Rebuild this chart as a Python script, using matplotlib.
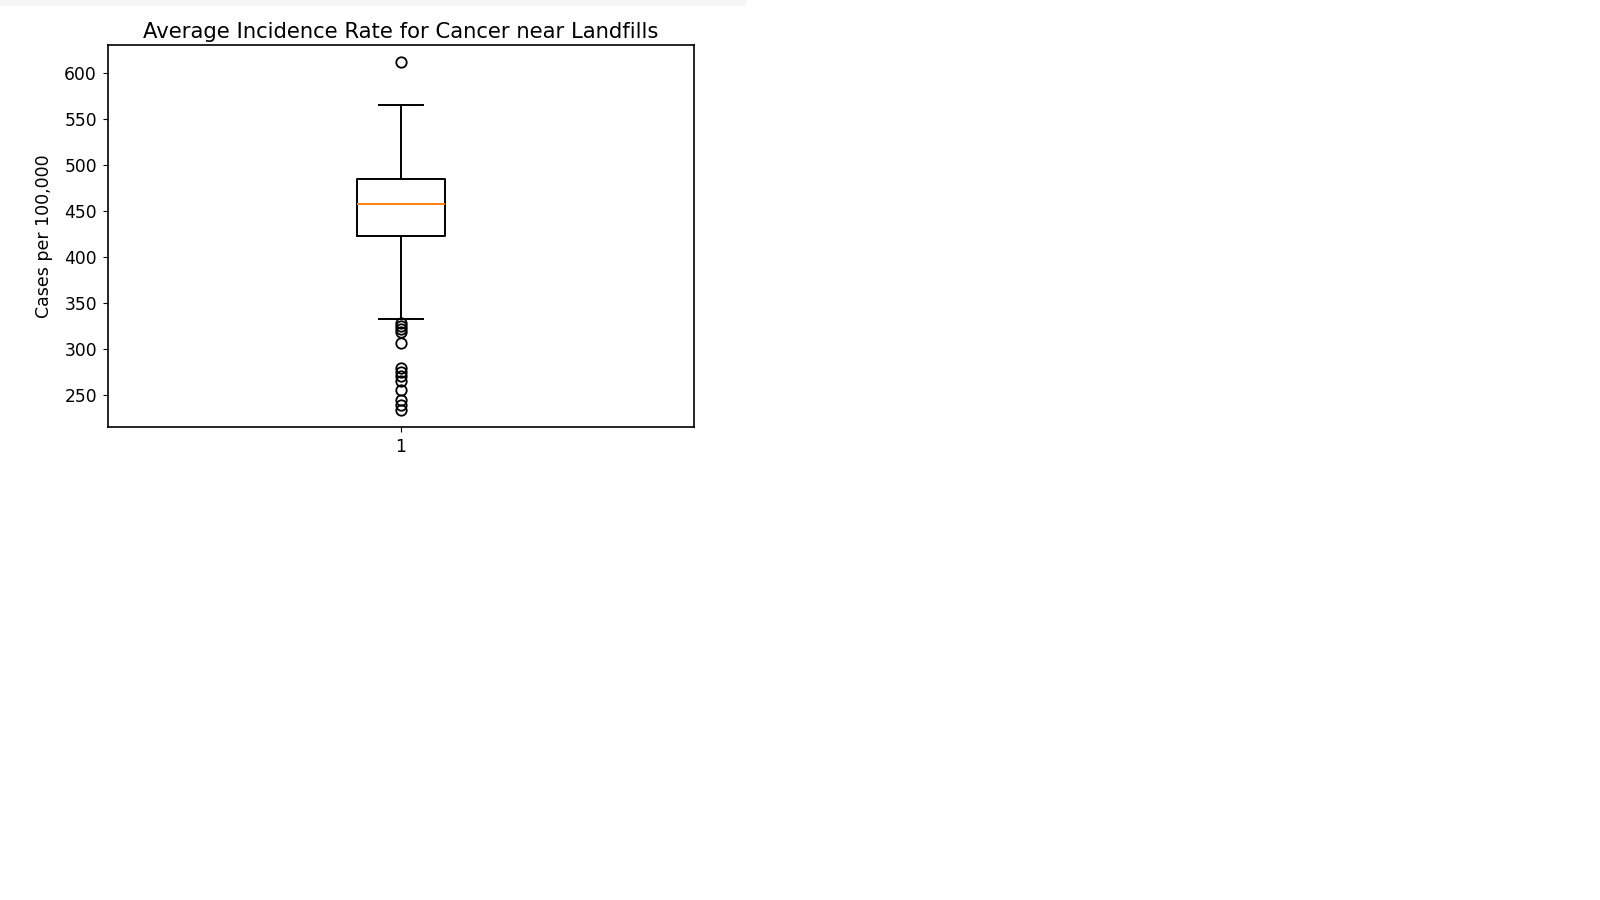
import matplotlib
matplotlib.use("Agg")
import matplotlib.pyplot as plt
from matplotlib.patches import Rectangle

# box statistics (cases per 100,000)
median = 457
q1 = 423
q3 = 485
whisker_low = 333
whisker_high = 565
fliers = [611, 328, 325.5, 322, 318.5, 307, 280, 275.5, 270.5, 265.5, 255.5, 244.5, 239.5, 234.5]
labels = ["1"]

stats = [{
    "med": median, "q1": q1, "q3": q3,
    "whislo": whisker_low, "whishi": whisker_high,
    "fliers": fliers, "label": labels[0],
}]

fig = plt.figure(figsize=(16, 9), dpi=100)

# faint strip at the top of the notebook output cell
fig.patches.append(Rectangle((0, 1 - 5 / 900), 745 / 1600, 5 / 900,
                             transform=fig.transFigure, color="#f5f5f5", zorder=0))

ax = fig.add_axes([108 / 1600, 1 - 427 / 900, 586 / 1600, 382 / 900])
ax.bxp(stats,
       boxprops=dict(linewidth=1.4),
       whiskerprops=dict(linewidth=1.4),
       capprops=dict(linewidth=1.4),
       medianprops=dict(color="#ff7f0e", linewidth=1.4),
       flierprops=dict(marker="o", markersize=7.5, markerfacecolor="none",
                       markeredgecolor="black", markeredgewidth=1.3))

for s in ax.spines.values():
    s.set_linewidth(1.2)

ax.set_title("Average Incidence Rate for Cancer near Landfills", fontsize=15.2, pad=5)
ax.set_ylabel("Cases per 100,000", fontsize=12.5, labelpad=8)
ax.tick_params(labelsize=12.3, pad=4.5)

fig.savefig("out.png", dpi=100)
